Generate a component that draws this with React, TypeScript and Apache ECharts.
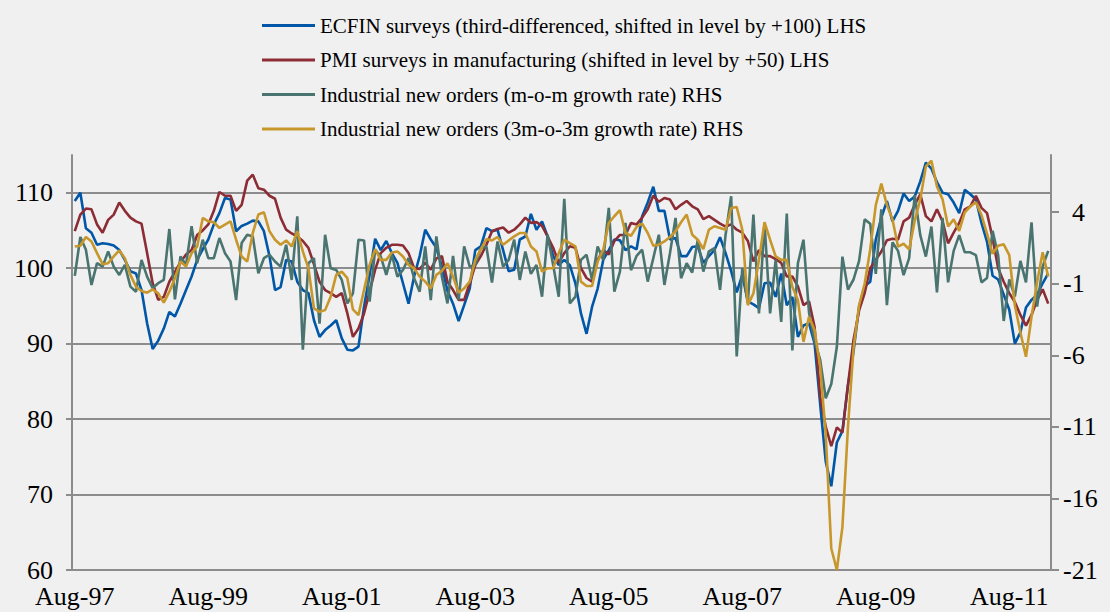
import React, { useEffect, useRef } from "react";
import * as echarts from "echarts";

const FONT = "'Liberation Serif', 'Times New Roman', Times, serif";
const MONTH_NAMES = ["Jan", "Feb", "Mar", "Apr", "May", "Jun", "Jul", "Aug", "Sep", "Oct", "Nov", "Dec"];
// Monthly categories Aug-97 .. Mar-12 (176 months)
const categories: string[] = Array.from({ length: 176 }, (_, i) => {
  const m = (7 + i) % 12;
  const y = 1997 + Math.floor((7 + i) / 12);
  return `${MONTH_NAMES[m]}-${String(y % 100).padStart(2, "0")}`;
});

const seriesNames = [
  "ECFIN surveys (third-differenced, shifted in level by +100) LHS",
  "PMI surveys in manufacturing (shifted in level by +50) LHS",
  "Industrial new orders (m-o-m growth rate) RHS",
  "Industrial new orders (3m-o-3m growth rate) RHS",
];
const seriesColors = ["#0057a8", "#8c2c34", "#4a7470", "#c8972b"];

const leftTicks = [60, 70, 80, 90, 100, 110];
const rightTicks = [-21, -16, -11, -6, -1, 4];

const ecfin = [
  108.9, 110.0, 105.3, 104.7, 103.1, 103.3, 103.2, 103.0, 102.4, 101.1,
  99.6, 99.3, 97.1, 92.7, 89.3, 90.4, 92.0, 94.2, 93.6, 95.3,
  97.1, 98.9, 101.1, 102.5, 103.8, 105.8, 107.3, 109.3, 109.1, 104.9,
  105.6, 105.9, 106.3, 106.2, 104.9, 101.6, 97.1, 97.5, 101.1, 100.9,
  98.2, 97.1, 96.7, 93.1, 90.9, 91.8, 92.4, 93.1, 90.7, 89.2,
  89.1, 89.6, 94.9, 99.1, 103.9, 102.4, 103.6, 102.0, 100.7, 98.0,
  95.3, 98.9, 101.6, 105.1, 103.8, 102.7, 100.2, 97.0, 95.3, 93.0,
  95.1, 97.3, 102.4, 102.9, 105.3, 104.9, 105.1, 102.4, 99.6, 99.8,
  103.8, 104.2, 107.2, 105.1, 106.2, 104.2, 101.6, 100.4, 101.1, 100.4,
  98.0, 94.0, 91.3, 94.9, 97.3, 101.1, 102.4, 103.8, 103.7, 102.4,
  102.9, 102.5, 106.9, 108.7, 110.8, 107.6, 107.6, 103.8, 104.0, 101.6,
  101.6, 102.8, 102.9, 100.7, 101.6, 102.4, 104.1, 102.0, 99.6, 96.8,
  99.1, 95.6, 95.2, 94.7, 98.0, 98.1, 96.2, 99.3, 95.1, 96.2,
  90.9, 92.4, 92.7, 90.0, 82.0, 74.4, 71.1, 76.9, 78.4, 84.5,
  89.0, 94.9, 97.6, 98.2, 103.8, 106.7, 108.9, 106.2, 107.6, 109.9,
  108.9, 109.5, 111.5, 114.0, 113.2, 111.4, 110.0, 109.8, 108.7, 107.3,
  110.4, 109.8, 109.1, 106.0, 103.5, 99.0, 98.5, 96.5, 94.5, 90.0,
  91.5, 94.8, 95.8, 96.5, 98.0, 99.3,
];

const pmi = [
  104.9, 107.1, 107.9, 107.8, 105.8, 104.7, 106.4, 107.1, 108.7, 107.6,
  106.7, 106.2, 105.9, 102.0, 98.0, 95.8, 96.2, 98.2, 99.5, 100.8,
  101.8, 102.4, 104.4, 105.0, 105.8, 107.6, 110.1, 109.6, 109.6, 107.6,
  108.4, 111.6, 112.4, 110.6, 110.4, 109.6, 109.2, 106.7, 105.1, 104.6,
  104.2, 103.6, 102.7, 100.5, 98.2, 97.1, 96.7, 96.2, 96.7, 94.0,
  90.9, 92.0, 94.0, 96.9, 99.8, 102.0, 102.7, 103.1, 103.1, 103.0,
  102.0, 100.0, 99.9, 100.7, 99.8, 101.3, 101.6, 98.2, 97.1, 95.8,
  95.8, 98.0, 100.4, 101.6, 103.1, 104.9, 105.2, 105.4, 104.7, 105.1,
  105.8, 106.7, 106.0, 106.1, 105.6, 104.2, 102.7, 100.7, 102.0, 102.9,
  102.7, 100.0, 98.7, 98.2, 101.1, 102.4, 101.8, 103.6, 104.4, 104.4,
  106.0, 105.8, 106.7, 107.8, 109.6, 108.8, 109.3, 109.1, 107.8, 108.4,
  108.9, 108.2, 107.8, 106.5, 106.9, 106.4, 105.9, 105.5, 105.8, 105.1,
  104.7, 103.6, 100.9, 102.4, 101.6, 101.6, 101.2, 100.7, 98.9, 98.9,
  97.6, 95.1, 95.6, 92.2, 83.0, 79.0, 76.4, 78.9, 78.2, 84.5,
  90.5, 94.4, 96.7, 100.0, 101.1, 102.2, 103.7, 103.9, 103.8, 106.2,
  106.7, 108.4, 109.8, 106.9, 106.2, 107.8, 106.2, 103.3, 104.7, 106.0,
  107.8, 108.2, 109.6, 108.0, 107.3, 104.0, 100.0, 98.2, 96.7, 95.5,
  93.8, 92.4, 93.8, 95.8, 97.2, 95.3,
];

const ordersMoM = [
  -0.45, 2.27, 1.38, -1.08, 0.44, 0.2, 1.26, 0.2, -0.38, 0.32,
  -1.2, -1.55, 0.67, -0.5, -1.3, -0.96, -0.73, 2.83, -2.09, 0.91,
  0.32, 3.02, 0.44, 2.08, 0.79, 0.79, 2.2, 1.14, 0.56, -2.14,
  1.85, 2.43, 2.31, -0.26, 0.79, 1.03, 0.56, 0.2, 1.73, -0.73,
  3.72, -5.6, 0.44, 0.79, -3.78, 2.43, 0.09, -0.03, -0.73, -2.37,
  -1.67, 2.08, 2.03, -2.25, 1.38, 0.91, -0.38, 1.03, -0.5, -0.03,
  0.79, -0.61, -1.55, 1.61, -2.14, 2.31, -0.5, -2.37, 0.95, -2.14,
  1.61, 0.2, 0.32, 1.49, 1.61, -0.92, 1.96, 0.2, 0.67, 2.08,
  -0.73, 1.26, -0.31, 0.32, -1.9, 2.43, 0.32, -1.9, 4.94, -2.37,
  -1.9, 0.67, 1.03, -0.73, 1.61, 0.67, 4.3, -1.55, -0.15, 3.25,
  -0.05, 0.95, 1.38, -0.85, 0.79, 2.43, -1.08, 1.14, 3.6, -0.61,
  0.44, -0.22, 2.08, -0.15, 1.26, 1.49, -1.43, 2.43, 5.12, -6.07,
  0.09, -2.37, 3.84, -3.07, 3.25, -3.07, 0.67, -3.66, 3.9, -5.65,
  0.44, 2.08, -3.0, -5.0, -6.3, -9.0, -8.0, -5.4, 0.9, -1.4,
  -0.7, 0.6, 3.5, 3.2, -0.3, 4.2, -2.5, 1.9, 1.3, -0.4,
  0.8, 5.2, 2.4, 0.9, 3.0, -1.6, 3.6, -0.9, 1.3, 2.4,
  1.2, 1.2, 1.0, -0.9, -0.6, 2.7, 1.0, -3.6, -0.7, -1.9,
  0.6, -0.9, 3.3, -2.6, 0.2, 1.3,
];

const orders3M = [
  1.61, 1.66, 2.27, 1.96, 1.14, 0.37, 0.44, 0.91, 1.33, 0.79,
  -0.38, -1.2, -1.5, -1.62, -1.39, -1.67, -2.32, -1.55, -0.61, 0.56,
  0.2, 1.14, 1.61, 3.6, 3.37, 3.3, 2.9, 3.13, 3.37, 2.08,
  0.91, 0.56, 2.55, 3.84, 4.0, 2.67, 2.08, 1.73, 2.03, 1.61,
  2.67, 1.26, 0.09, -2.72, -2.96, -2.84, -1.9, -0.38, -0.15, -0.61,
  -2.79, -3.19, -1.43, 0.32, 1.42, 0.67, 0.67, 1.19, 1.26, 0.91,
  0.32, 0.09, -0.5, -0.85, -1.32, -0.38, -0.1, 0.44, -0.5, -1.62,
  -1.32, -0.85, 0.67, 1.42, 2.13, 2.03, 2.27, 1.73, 2.03, 2.31,
  2.55, 2.55, 1.61, 1.26, -0.15, 0.09, 0.09, 1.14, 2.08, 1.84,
  1.61, -0.85, -1.15, -1.15, 0.56, 1.38, 3.25, 3.72, 4.14, 2.55,
  2.36, 2.97, 3.2, 2.55, 1.66, 1.73, 1.96, 2.27, 2.67, 3.3,
  3.84, 2.43, 2.08, 1.42, 2.78, 3.02, 2.9, 2.78, 4.3, 4.37,
  2.78, -2.49, -1.67, 0.67, 3.3, 2.08, 0.91, 0.67, 0.67, -1.2,
  -2.14, -5.06, -3.3, -4.23, -6.8, -11.5, -19.5, -21.0, -18.0, -11.0,
  -5.5, -2.5, -1.0, 1.4, 4.5, 6.0, 4.5, 3.5, 1.6, 1.8,
  1.4, 3.4, 4.9, 7.2, 7.6, 5.8, 4.9, 3.0, 3.5, 2.7,
  4.0, 4.4, 4.7, 3.8, 2.5, 1.1, 1.65, 1.76, 1.0, -2.5,
  -4.4, -6.1, -3.3, -0.9, 1.2, -0.5,
];

const AXIS_GRAY = "#8c8c8c";

export default function App() {
  const ref = useRef<HTMLDivElement>(null);

  useEffect(() => {
    document.body.style.margin = "0";
    if (!ref.current) return;
    const chart = echarts.init(ref.current, undefined, { renderer: "svg" });
    const lineSeries = (idx: number, data: number[], yAxisIndex: number) => ({
      name: seriesNames[idx],
      type: "line",
      yAxisIndex,
      data,
      color: seriesColors[idx],
      showSymbol: false,
      symbol: "none",
      lineStyle: { color: seriesColors[idx], width: 2.6 },
      emphasis: { disabled: true },
    });
    chart.setOption({
      animation: false,
      backgroundColor: "#f0f0f0",
      textStyle: { fontFamily: FONT },
      legend: {
        orient: "vertical",
        left: 262,
        top: 15,
        padding: 0,
        icon: "rect",
        itemWidth: 53,
        itemHeight: 3,
        itemGap: 13.5,
        selectedMode: false,
        data: seriesNames,
        textStyle: { fontFamily: FONT, fontSize: 21, color: "#000", lineHeight: 21 },
      },
      grid: {
        left: 72,
        right: 59,
        top: 155,
        bottom: 42,
        containLabel: false,
        outerBoundsMode: "none",
      },
      xAxis: {
        type: "category",
        data: categories,
        boundaryGap: true,
        axisLine: { onZero: false, lineStyle: { color: AXIS_GRAY, width: 2 } },
        axisTick: { interval: 11, length: 6, lineStyle: { color: AXIS_GRAY, width: 2 } },
        axisLabel: { interval: 23, fontSize: 26, color: "#000", margin: 13, fontFamily: FONT },
        splitLine: { show: false },
      },
      yAxis: [
        {
          type: "value",
          position: "left",
          min: 60,
          max: 115,
          interval: 10,
          axisLine: { show: true, lineStyle: { color: AXIS_GRAY, width: 2 } },
          axisTick: { show: true, length: 6, customValues: leftTicks, lineStyle: { color: AXIS_GRAY, width: 2 } },
          axisLabel: {
            fontSize: 26,
            color: "#000",
            margin: 19,
            fontFamily: FONT,
            customValues: leftTicks,
          },
          splitLine: { show: true, lineStyle: { color: AXIS_GRAY, width: 2 } },
        },
        {
          type: "value",
          position: "right",
          min: -21,
          max: 8,
          interval: 5,
          axisLine: { show: true, lineStyle: { color: AXIS_GRAY, width: 2 } },
          axisTick: { show: true, length: 8, customValues: rightTicks, lineStyle: { color: AXIS_GRAY, width: 2 } },
          axisLabel: {
            fontSize: 26,
            color: "#000",
            margin: 12,
            fontFamily: FONT,
            customValues: rightTicks,
            formatter: (v: number) => (v >= 0 ? `{p|${v}}` : `${v}`),
            rich: { p: { padding: [0, 0, 0, 9], fontSize: 26, color: "#000", fontFamily: FONT } },
          },
          splitLine: { show: false },
        },
      ],
      series: [
        lineSeries(0, ecfin, 0),
        lineSeries(1, pmi, 0),
        lineSeries(2, ordersMoM, 1),
        lineSeries(3, orders3M, 1),
      ],
    });
    return () => chart.dispose();
  }, []);

  return <div ref={ref} style={{ width: 1110, height: 612 }} />;
}
